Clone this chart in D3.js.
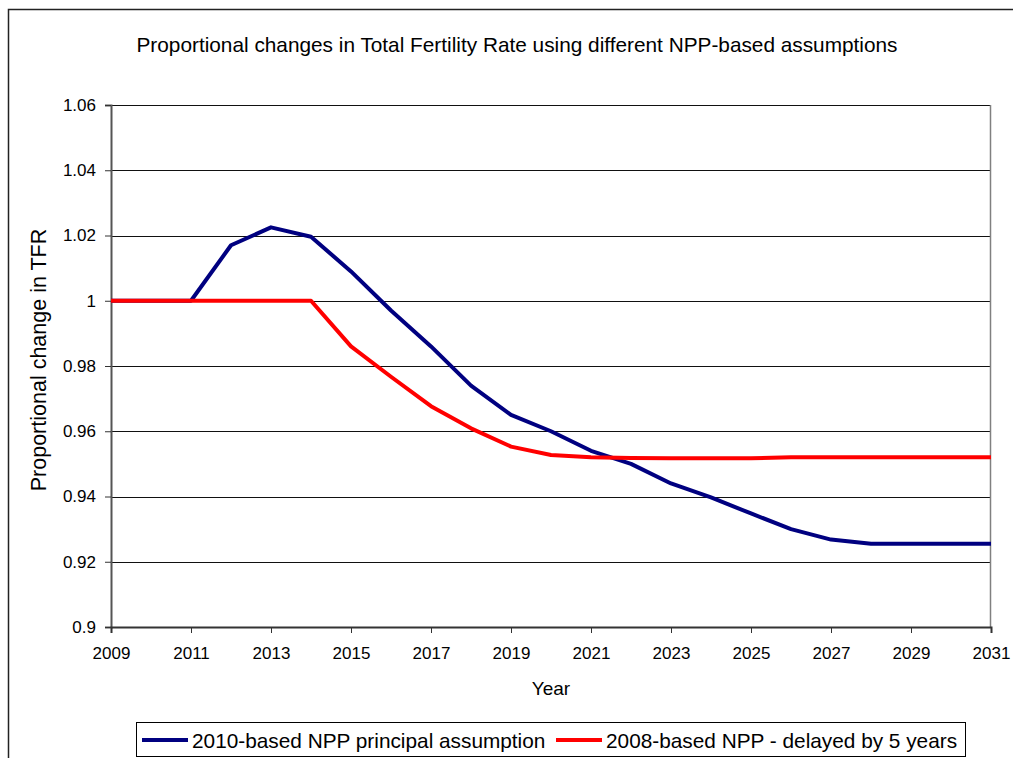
<!DOCTYPE html>
<html>
<head>
<meta charset="utf-8">
<script src="https://cdn.jsdelivr.net/npm/d3@7"></script>
<style>
  body { margin: 0; background: #fff; }
  svg text { font-family: "Liberation Sans", Arial, sans-serif; fill: #000; }
</style>
</head>
<body>
<svg id="chart" width="1013" height="758"></svg>
<script>
const years = [2009,2010,2011,2012,2013,2014,2015,2016,2017,2018,2019,2020,2021,2022,2023,2024,2025,2026,2027,2028,2029,2030,2031];
const principal2010 = [1,1,1,1.017,1.0225,1.0196,1.009,0.997,0.986,0.974,0.965,0.960,0.954,0.950,0.944,0.9397,0.9348,0.930,0.9268,0.9255,0.9255,0.9255,0.9255];
const delayed2008 = [1,1,1,1,1,1,0.986,0.9767,0.9677,0.9609,0.9553,0.9527,0.952,0.9518,0.9517,0.9517,0.9517,0.952,0.952,0.952,0.952,0.952,0.952];
const xTickYears = [2009,2011,2013,2015,2017,2019,2021,2023,2025,2027,2029,2031];
const yTicks = [0.9,0.92,0.94,0.96,0.98,1,1.02,1.04,1.06];
const yTickLabels = ["0.9","0.92","0.94","0.96","0.98","1","1.02","1.04","1.06"];
const seriesNames = ["2010-based NPP principal assumption","2008-based NPP - delayed by 5 years"];
const seriesColors = ["#000080","#FF0000"];
const chartTitle = "Proportional changes in Total Fertility Rate using different NPP-based assumptions";

const svg = d3.select("#chart");
const plot = {left:111, right:991, top:105, bottom:627};

// outer frame
svg.append("path")
  .attr("d", `M8.5,770 V9.5 H1030`)
  .attr("fill","none").attr("stroke","#222").attr("stroke-width",1.5);

const x = d3.scaleLinear().domain([2009,2031]).range([plot.left, plot.right]);
const y = d3.scaleLinear().domain([0.9,1.06]).range([plot.bottom, plot.top]);

// gridlines
svg.append("g").selectAll("line").data(yTicks.slice(1)).join("line")
  .attr("x1", plot.left).attr("x2", plot.right)
  .attr("y1", d=>Math.round(y(d))+0.5).attr("y2", d=>Math.round(y(d))+0.5)
  .attr("stroke","#111").attr("stroke-width",1);

// right border of plot area
svg.append("line").attr("x1",plot.right-0.5).attr("x2",plot.right-0.5)
  .attr("y1",plot.top).attr("y2",plot.bottom).attr("stroke","#808080").attr("stroke-width",1.5);

// y axis
const yAxis = d3.axisLeft(y).tickValues(yTicks).tickFormat((d,i)=>yTickLabels[i]).tickSize(6).tickPadding(9);
const gy = svg.append("g").attr("transform",`translate(${plot.left},0)`).call(yAxis);
gy.select(".domain").attr("stroke","#555").attr("stroke-width",2);
gy.selectAll(".tick line").attr("stroke","#333");
gy.selectAll(".tick text").attr("font-size",17).attr("font-family","Liberation Sans, Arial, sans-serif");

// x axis
const xAxis = d3.axisBottom(x).tickValues(xTickYears).tickFormat(d3.format("d")).tickSize(6).tickPadding(14);
const gx = svg.append("g").attr("transform",`translate(0,${plot.bottom})`).call(xAxis);
gx.select(".domain").attr("stroke","#333").attr("stroke-width",2);
gx.selectAll(".tick line").attr("stroke","#333");
gx.selectAll(".tick text").attr("font-size",17).attr("font-family","Liberation Sans, Arial, sans-serif");

// lines
const series = [principal2010, delayed2008];
const line = d3.line().x((d,i)=>x(years[i])).y(d=>y(d));
[0,1].forEach(s=>{
  svg.append("path").datum(series[s]).attr("d", line)
    .attr("fill","none").attr("stroke",seriesColors[s]).attr("stroke-width",4)
    .attr("stroke-linejoin","round");
});

// title
svg.append("text").attr("x",517).attr("y",52).attr("text-anchor","middle")
  .attr("font-size",20.8).text(chartTitle);

// axis titles
svg.append("text").attr("x",551).attr("y",695).attr("text-anchor","middle")
  .attr("font-size",19).text("Year");
svg.append("text").attr("transform","translate(46,360) rotate(-90)").attr("text-anchor","middle")
  .attr("font-size",21.5).text("Proportional change in TFR");

// legend
const lg = svg.append("g");
lg.append("rect").attr("x",136.5).attr("y",722.5).attr("width",829).attr("height",34)
  .attr("fill","#fff").attr("stroke","#000").attr("stroke-width",1);
const legendX = [142, 556];
seriesNames.forEach((n,i)=>{
  lg.append("line").attr("x1",legendX[i]).attr("x2",legendX[i]+46).attr("y1",740).attr("y2",740)
    .attr("stroke",seriesColors[i]).attr("stroke-width",4);
  lg.append("text").attr("x",legendX[i]+50).attr("y",747.5).attr("font-size",20.8).text(n);
});
</script>
</body>
</html>
